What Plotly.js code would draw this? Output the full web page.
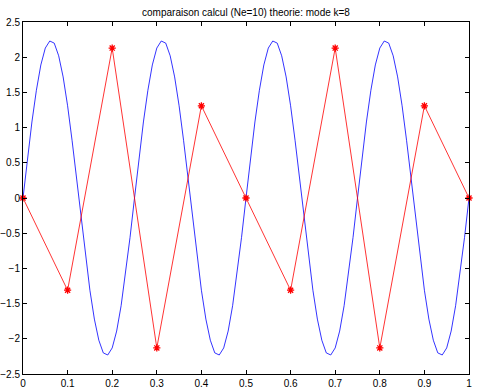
<!DOCTYPE html>
<html><head><meta charset="utf-8">
<script src="https://cdn.plot.ly/plotly-3.0.1.min.js"></script>
<style>html,body{margin:0;padding:0;background:#fff}#c{width:479px;height:389px}</style>
</head><body><div id="c"></div>
<script>
// theory curve (blue), sampled at x = 0, 0.01, ..., 1
var theoryX = [0,0.01,0.02,0.03,0.04,0.05,0.06,0.07,0.08,0.09,0.1,0.11,0.12,0.13,0.14,0.15,0.16,0.17,0.18,0.19,0.2,0.21,0.22,0.23,0.24,0.25,0.26,0.27,0.28,0.29,0.3,0.31,0.32,0.33,0.34,0.35,0.36,0.37,0.38,0.39,0.4,0.41,0.42,0.43,0.44,0.45,0.46,0.47,0.48,0.49,0.5,0.51,0.52,0.53,0.54,0.55,0.56,0.57,0.58,0.59,0.6,0.61,0.62,0.63,0.64,0.65,0.66,0.67,0.68,0.69,0.7,0.71,0.72,0.73,0.74,0.75,0.76,0.77,0.78,0.79,0.8,0.81,0.82,0.83,0.84,0.85,0.86,0.87,0.88,0.89,0.9,0.91,0.92,0.93,0.94,0.95,0.96,0.97,0.98,0.99,1];
var theoryY = [0,0.56,1.08,1.53,1.89,2.13,2.23,2.20,2.02,1.72,1.31,0.82,0.28,-0.28,-0.82,-1.31,-1.72,-2.02,-2.20,-2.23,-2.13,-1.89,-1.53,-1.08,-0.56,
 0,0.56,1.08,1.53,1.89,2.13,2.23,2.20,2.02,1.72,1.31,0.82,0.28,-0.28,-0.82,-1.31,-1.72,-2.02,-2.20,-2.23,-2.13,-1.89,-1.53,-1.08,-0.56,
 0,0.56,1.08,1.53,1.89,2.13,2.23,2.20,2.02,1.72,1.31,0.82,0.28,-0.28,-0.82,-1.31,-1.72,-2.02,-2.20,-2.23,-2.13,-1.89,-1.53,-1.08,-0.56,
 0,0.56,1.08,1.53,1.89,2.13,2.23,2.20,2.02,1.72,1.31,0.82,0.28,-0.28,-0.82,-1.31,-1.72,-2.02,-2.20,-2.23,-2.13,-1.89,-1.53,-1.08,-0.56,0];
// computed nodal values (red)
var calcX = [0,0.1,0.2,0.3,0.4,0.5,0.6,0.7,0.8,0.9,1];
var calcY = [0,-1.31,2.13,-2.13,1.31,0,-1.31,2.13,-2.13,1.31,0];
var xTicks = [0,0.1,0.2,0.3,0.4,0.5,0.6,0.7,0.8,0.9,1];
var xTickText = ['0','0.1','0.2','0.3','0.4','0.5','0.6','0.7','0.8','0.9','1'];
var yTicks = [-2.5,-2,-1.5,-1,-0.5,0,0.5,1,1.5,2,2.5];
var yTickText = ['\u22122.5','\u22122','\u22121.5','\u22121','\u22120.5','0','0.5','1','1.5','2','2.5'];
var titleText = 'comparaison calcul (Ne=10) theorie: mode k=8';

var traces = [
 {x: theoryX, y: theoryY, type:'scatter', mode:'lines', line:{color:'#0000ff', width:0.8}, hoverinfo:'skip'},
 {x: calcX, y: calcY, type:'scatter', mode:'lines+markers', cliponaxis:false,
  line:{color:'#ff0000', width:0.8},
  marker:{symbol:'asterisk-open', size:6, color:'#ff0000', line:{color:'#ff0000', width:1.3}}, hoverinfo:'skip'}
];
var axisCommon = {showline:true, mirror:'ticks', linecolor:'#000', linewidth:1, ticks:'inside', ticklen:4, tickwidth:1, tickcolor:'#000',
  showgrid:false, zeroline:false, tickfont:{family:'Liberation Sans, Arial, sans-serif', size:10, color:'#000'}};
var layout = {
 width:479, height:389, paper_bgcolor:'#fff', plot_bgcolor:'#fff', showlegend:false,
 margin:{l:23, r:10, t:22, b:15, pad:0},
 title:{text:titleText, font:{family:'Liberation Sans, Arial, sans-serif', size:10, color:'#000'}, xref:'paper', x:0.5, xanchor:'center', yref:'container', y:0.969, yanchor:'middle'},
 xaxis:Object.assign({}, axisCommon, {range:[0,1], tickvals:xTicks, ticktext:xTickText, ticklabelstandoff:0}),
 yaxis:Object.assign({}, axisCommon, {range:[-2.5,2.5], tickvals:yTicks, ticktext:yTickText, ticklabelstandoff:0})
};
Plotly.newPlot('c', traces, layout, {staticPlot:true, displayModeBar:false});
</script></body></html>
